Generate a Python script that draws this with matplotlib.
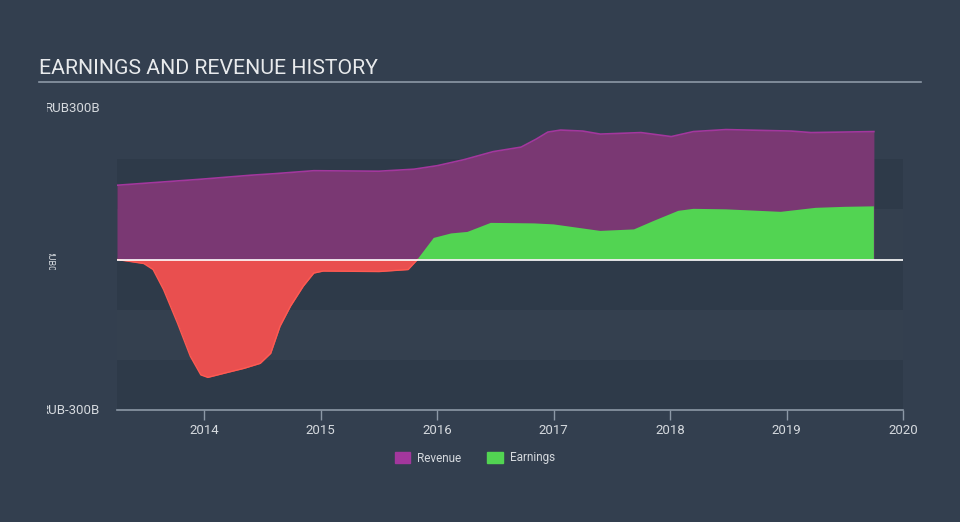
import numpy as np
import matplotlib.pyplot as plt
from matplotlib.patches import Patch
from matplotlib.transforms import Bbox, TransformedBbox, IdentityTransform

plt.rcParams['font.family'] = ['Roboto', 'DejaVu Sans']

# RUB billions
rev_years = [2013.25, 2013.97, 2014.40, 2014.6, 2014.94, 2015.5, 2015.8, 2016.0,
             2016.23, 2016.48, 2016.72, 2016.85, 2016.95, 2017.06, 2017.25, 2017.40,
             2017.75, 2018.01, 2018.20, 2018.48, 2019.04, 2019.21, 2019.75]
revenue = [148, 160, 168, 171, 177, 176, 180, 187,
           199, 215, 224, 240, 254, 258, 256, 250,
           253, 245, 255, 259, 256, 253, 255]

earn_years = [2013.25, 2013.48, 2013.56, 2013.65, 2013.77, 2013.88, 2013.97, 2014.03,
              2014.20, 2014.34, 2014.48, 2014.57, 2014.65, 2014.74, 2014.85, 2014.94,
              2015.02, 2015.5, 2015.75, 2015.83, 2015.97, 2016.12, 2016.26, 2016.46,
              2016.83, 2017.0, 2017.40, 2017.69, 2017.86, 2018.07, 2018.2, 2018.48,
              2018.95, 2019.25, 2019.5, 2019.75]
earnings = [0, -8, -20, -60, -127, -193, -230, -235,
            -225, -217, -207, -187, -133, -93, -53, -27,
            -23, -24, -20, 0, 43, 52, 55, 73,
            72, 70, 57, 60, 77, 97, 101, 100,
            95, 103, 105, 106]
xticks = [2014, 2015, 2016, 2017, 2018, 2019, 2020]

bg = '#333f4f'
band_dark = '#2e3a49'
txt = '#d5d9de'

xr = np.array(rev_years)
rev = np.array(revenue)
xe = np.array(earn_years)
ear = np.array(earnings)

fig = plt.figure(figsize=(9.6, 5.22), dpi=100, facecolor=bg)
ax = fig.add_axes([117/960, 1 - 410/522, (903 - 117)/960, (410 - 109)/522])
ax.set_facecolor('none')
ax.set_xlim(2013.25, 2020.0)
ax.set_ylim(-300, 300)

# background bands
for i, lo in enumerate(range(-300, 200, 100)):
    ax.axhspan(lo, lo + 100, color=band_dark if i % 2 == 0 else '#34404f', lw=0, zorder=0)

ax.fill_between(xr, 0, rev, color='#7a3873', lw=0, zorder=2)
ax.plot(xr, rev, color='#a3379d', lw=1.2, zorder=3)
ax.fill_between(xe, 0, ear, where=ear >= 0, interpolate=True, color='#52d452', lw=0, zorder=4)
ax.fill_between(xe, 0, ear, where=ear <= 0, interpolate=True, color='#e94f4f', lw=0, zorder=4)
ax.plot(xe, np.where(ear <= 0, ear, np.nan), color='#ff5a52', lw=1.0, zorder=5)
ax.axhline(0, color='white', lw=1.2, zorder=6)

for s in ['top', 'right', 'left']:
    ax.spines[s].set_visible(False)
ax.spines['bottom'].set_color('#8c98a6')
ax.spines['bottom'].set_linewidth(1.2)
ax.set_xticks(xticks)
ax.set_xticklabels([str(t) for t in xticks])
ax.tick_params(axis='x', colors='#8c98a6', labelcolor=txt, labelsize=9.5, length=7, width=1, pad=3)
ax.set_yticks([])

# y labels (clipped at the left like the original)
clip = TransformedBbox(Bbox([[47, 0], [960, 522]]), IdentityTransform())
for lab, ypx in [('RUB300B', 109), ('RUB-300B', 410)]:
    t = fig.text(100/960, 1 - ypx/522, lab, color=txt, fontsize=9.5, ha='right', va='center')
    t.set_clip_box(clip)
    t.set_clip_on(True)
t = fig.text(50/960, 1 - 260/522, 'RUB0', color=txt, fontsize=6.5, ha='center', va='center', rotation=-90)
t.set_clip_box(TransformedBbox(Bbox([[47, 252], [60, 268]]), IdentityTransform()))
t.set_clip_on(True)

# title
fig.text(39/960, 1 - 68/522, 'EARNINGS AND REVENUE HISTORY', color='#e8eaec', fontsize=15.3, ha='left', va='center')
fig.add_artist(plt.Line2D([39/960, 921/960], [1 - 82/522, 1 - 82/522], color='#8c98a6', lw=1.2))

handles = [Patch(color='#a3379d', label='Revenue'), Patch(color='#52d452', label='Earnings')]
fig.legend(handles=handles, loc='center', bbox_to_anchor=(475/960, 1 - 458/522), ncol=2, frameon=False,
           labelcolor=txt, fontsize=8.5, handlelength=1.3, handleheight=1.0, columnspacing=2.2, handletextpad=0.6)

fig.savefig('out.png', dpi=100, facecolor=bg)
